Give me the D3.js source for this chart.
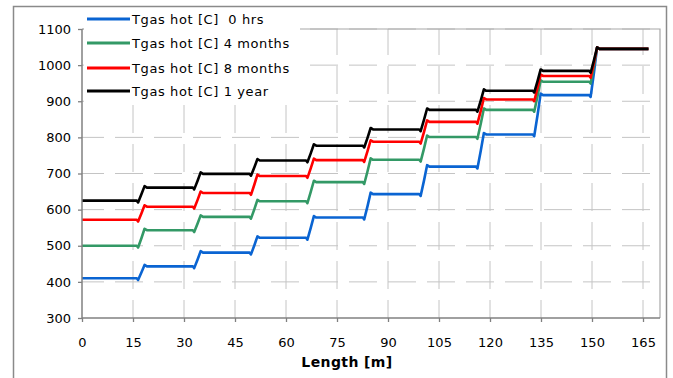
<!DOCTYPE html>
<html lang="en">
<head>
    <meta charset="UTF-8">
    <title>Tgas hot vs Length</title>
    <script src="https://d3js.org/d3.v7.min.js"></script>
    <style>
        body { margin: 0; background: #fff; }
        svg text { font-family: "DejaVu Sans", Arial, sans-serif; }
        .tick text { font-size: 13px; fill: #000; }
        .grid line { stroke: #c4c4c4; stroke-width: 1; stroke-dasharray: 28 11; }
    </style>
</head>
<body>
    <svg id="chart" width="673" height="378"></svg>

    <script>
        // step positions along the length (m) where every series jumps
        const breaks = [16.5, 33, 49.7, 66.3, 83, 99.6, 116.3, 133, 149.6];
        const xEnd = 166.6;

        // level of each segment (0-16.5, 16.5-33, ..., 149.6-end)
        const seriesNames = ["Tgas hot [C]  0 hrs", "Tgas hot [C] 4 months", "Tgas hot [C] 8 months", "Tgas hot [C] 1 year"];
        const hrs0    = [410, 443, 481, 522, 578, 643, 719, 808, 917, 1045];
        const months4 = [500, 543, 580, 623, 676, 738, 801, 876, 954, 1045];
        const months8 = [572, 608, 646, 693, 737, 788, 843, 905, 970, 1045];
        const year1   = [625, 661, 699, 736, 777, 822, 876, 929, 984, 1045];
        const colors  = ["#0a64d2", "#339966", "#ff0000", "#000000"];

        const xTicks = [0, 15, 30, 45, 60, 75, 90, 105, 120, 135, 150, 165];
        const yTicks = [300, 400, 500, 600, 700, 800, 900, 1000, 1100];

        const plotL = 82, plotR = 660, plotT = 29, plotB = 318;

        const svg = d3.select("#chart");

        const x = d3.scaleLinear().domain([0, 170]).range([plotL, plotR]);
        const y = d3.scaleLinear().domain([300, 1100]).range([plotB, plotT]);

        // outer chart border
        svg.append("rect")
            .attr("x", 13.5).attr("y", 6.5)
            .attr("width", 653).attr("height", 390)
            .attr("fill", "none")
            .attr("stroke", "#8a8a8a")
            .attr("stroke-width", 1.5);

        // grid
        const grid = svg.append("g").attr("class", "grid");
        grid.selectAll(".h")
            .data(yTicks.slice(1))
            .enter().append("line")
            .attr("x1", plotL).attr("x2", plotR)
            .attr("y1", d => y(d)).attr("y2", d => y(d))
            .style("stroke-dashoffset", 6);
        grid.selectAll(".v")
            .data(xTicks.slice(1))
            .enter().append("line")
            .attr("x1", d => x(d)).attr("x2", d => x(d))
            .attr("y1", plotB).attr("y2", plotT)
            .style("stroke-dashoffset", 10);

        // plot frame (top / right lighter)
        svg.append("path")
            .attr("d", `M${plotL},${plotT}H${plotR}V${plotB}`)
            .attr("fill", "none")
            .attr("stroke", "#a8a8a8")
            .attr("stroke-width", 1.2);

        // series: flat levels with a short ramp at each break
        const line = d3.line().x(d => x(d[0])).y(d => y(d[1]));
        function stepPoints(levels) {
            const pts = [[0, levels[0]]];
            breaks.forEach((b, i) => {
                pts.push([b - 0.4, levels[i]]);
                pts.push([b, levels[i] - 5]);
                pts.push([b + 1.0, (levels[i] + levels[i + 1]) / 2]);
                pts.push([b + 1.9, levels[i + 1] + 4]);
                pts.push([b + 2.6, levels[i + 1]]);
            });
            pts.push([xEnd, levels[levels.length - 1]]);
            return pts;
        }

        [hrs0, months4, months8, year1].forEach((levels, i) => {
            svg.append("path")
                .datum(stepPoints(levels))
                .attr("fill", "none")
                .attr("stroke", colors[i])
                .attr("stroke-width", 2.6)
                .attr("stroke-linejoin", "round")
                .attr("d", line);
        });

        // axes
        const yAxis = svg.append("g")
            .attr("transform", `translate(${plotL},0)`)
            .call(d3.axisLeft(y).tickValues(yTicks).tickFormat(d3.format("d"))
                .tickSize(4).tickSizeOuter(0).tickPadding(7));
        const xAxis = svg.append("g")
            .attr("transform", `translate(0,${plotB})`)
            .call(d3.axisBottom(x).tickValues(xTicks).tickFormat(d3.format("d"))
                .tickSize(4).tickSizeOuter(0).tickPadding(16));
        [yAxis, xAxis].forEach(a => {
            a.select(".domain").attr("stroke", "#808080").attr("stroke-width", 1.5);
            a.selectAll(".tick line").attr("stroke", "#808080").attr("stroke-width", 1.3);
            a.selectAll("text").attr("font-family", "DejaVu Sans");
        });
        xAxis.select(".domain").attr("d", `M${plotL},0H${plotR}`);
        yAxis.select(".domain").attr("d", `M0,${plotB}V${plotT}`);

        svg.append("text")
            .attr("x", 347).attr("y", 367)
            .attr("text-anchor", "middle")
            .attr("font-size", 14)
            .attr("font-weight", "bold")
            .attr("letter-spacing", 0.4)
            .text("Length [m]");

        // legend
        const legend = svg.append("g");
        legend.append("rect")
            .attr("x", 84).attr("y", 8)
            .attr("width", 216).attr("height", 96)
            .attr("fill", "#fff");
        const rowY = [19, 43, 68, 91];
        seriesNames.forEach((name, i) => {
            legend.append("line")
                .attr("x1", 87).attr("x2", 130)
                .attr("y1", rowY[i]).attr("y2", rowY[i])
                .attr("stroke", colors[i])
                .attr("stroke-width", 3);
            legend.append("text")
                .attr("x", 132).attr("y", rowY[i])
                .attr("dy", "0.36em")
                .attr("font-size", 13)
                .attr("letter-spacing", 0.6)
                .style("white-space", "pre")
                .text(name);
        });
    </script>
</body>
</html>
